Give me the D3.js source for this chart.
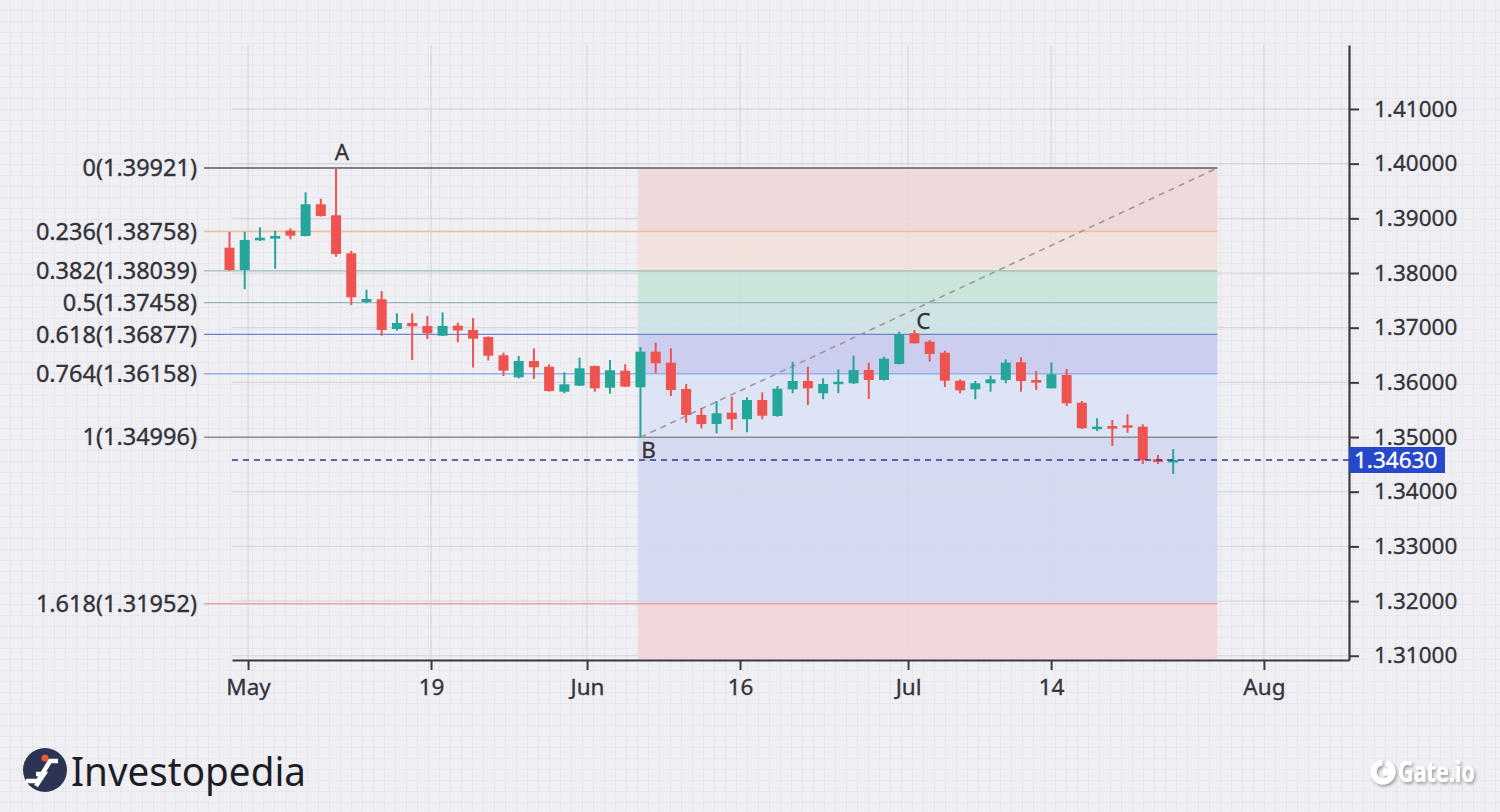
<!DOCTYPE html>
<html><head><meta charset="utf-8">
<script src="https://cdn.jsdelivr.net/npm/d3@7"></script>
<style>body{margin:0;background:#eeeef3;overflow:hidden}svg{display:block}</style>
</head><body>
<svg id="chart" width="1500" height="812"></svg>
<script>
// ---- data (GBP/USD daily candles, trading-day index 0..62) ----
const openP  = [1.38463,1.38055,1.38598,1.38628,1.38774,1.38677,1.39257,1.39056,1.38361,1.37470,
                1.37519,1.36976,1.37086,1.37031,1.36853,1.37036,1.36958,1.36830,1.36495,1.36093,
                1.36391,1.36286,1.35829,1.35939,1.36299,1.35902,1.36213,1.35910,1.36561,1.36360,
                1.35879,1.35403,1.35238,1.35445,1.35325,1.35677,1.35385,1.35873,1.36025,1.35800,
                1.35983,1.35983,1.36226,1.36043,1.36336,1.36897,1.36744,1.36542,1.36030,1.35873,
                1.35983,1.36043,1.36367,1.36043,1.35891,1.36135,1.35628,1.35160,1.35202,1.35215,
                1.35189,1.34593,1.34543];
const highP  = [1.38750,1.38750,1.38836,1.38774,1.38818,1.39476,1.39359,1.39921,1.38403,1.37695,
                1.37671,1.37263,1.37263,1.37214,1.37281,1.37091,1.37177,1.36840,1.36542,1.36482,
                1.36623,1.36330,1.36184,1.36451,1.36308,1.36409,1.36330,1.36647,1.36725,1.36623,
                1.35970,1.35526,1.35659,1.35738,1.35727,1.35818,1.35933,1.36378,1.36286,1.36074,
                1.36239,1.36488,1.36360,1.36469,1.36927,1.36958,1.36775,1.36579,1.36056,1.36025,
                1.36122,1.36422,1.36458,1.36208,1.36367,1.36244,1.35659,1.35343,1.35311,1.35416,
                1.35233,1.34671,1.34781];
const lowP   = [1.38037,1.37702,1.38586,1.38079,1.38617,1.38670,1.39034,1.38298,1.37415,1.37446,
                1.36853,1.36945,1.36409,1.36793,1.36848,1.36733,1.36272,1.36400,1.36116,1.36074,
                1.36061,1.35829,1.35800,1.35934,1.35829,1.35793,1.35915,1.34996,1.36166,1.35750,
                1.35262,1.35160,1.35068,1.35129,1.35087,1.35325,1.35372,1.35800,1.35586,1.35690,
                1.35800,1.35970,1.35696,1.36034,1.36327,1.36710,1.36378,1.35915,1.35800,1.35690,
                1.35829,1.35983,1.35829,1.35860,1.35888,1.35568,1.35147,1.35110,1.34836,1.35079,
                1.34507,1.34507,1.34324];
const closeP = [1.38055,1.38604,1.38646,1.38677,1.38683,1.39257,1.39043,1.38348,1.37556,1.37525,
                1.36958,1.37086,1.37025,1.36897,1.37031,1.36949,1.36799,1.36488,1.36213,1.36391,
                1.36275,1.35842,1.35964,1.36257,1.35891,1.36221,1.35921,1.36561,1.36349,1.35860,
                1.35403,1.35238,1.35434,1.35326,1.35677,1.35390,1.35884,1.36025,1.35891,1.35970,
                1.36012,1.36226,1.36043,1.36433,1.36879,1.36714,1.36519,1.36030,1.35855,1.35983,
                1.36056,1.36360,1.36025,1.35994,1.36147,1.35617,1.35160,1.35189,1.35152,1.35171,
                1.34580,1.34543,1.34580];

const xTickPos    = [1.22, 13.24, 23.49, 33.54, 44.58, 53.98, 67.96];
const xTickLabels = ["May","19","Jun","16","Jul","14","Aug"];
const yTicks      = [1.31,1.32,1.33,1.34,1.35,1.36,1.37,1.38,1.39,1.40,1.41];

const fibRatios = ["0","0.236","0.382","0.5","0.618","0.764","1","1.618"];
const fibPrices = [1.39921,1.38758,1.38039,1.37458,1.36877,1.36158,1.34996,1.31952];
const fibLineColors = ["#5a5a62","#f1bf8f","#9fbcb8","#9ab3bd","#6f82d2","#93b2ef","#8d8d98","#eea3a3"];
const fibBandColors = ["#efd6da","#f3e0d9","#c5e4d5","#cce1e3","#c6caee","#dbe3f5","#d2d7ef","#f1d5da"];
const fibStartIdx = 26.85, fibEndIdx = 64.9;

const points      = ["A","B","C"];
const pointIdx    = [7, 27, 45];
const lastPrice   = 1.34580;
const lastLabel   = "1.34630";

// ---- scales ----
const W = 1500, H = 812;
const x = d3.scaleLinear().domain([0.164, 73.55]).range([232, 1349]);
const y = d3.scaleLinear().domain([1.30922, 1.4217]).range([660, 45]);
const svg = d3.select("#chart");
const FONT = "'Noto Sans', 'Open Sans', sans-serif";
const TXT = "#333338";

// background with graph-paper grid
const defs = svg.append("defs");
const pat = defs.append("pattern").attr("id","paper").attr("width",11).attr("height",11)
  .attr("patternUnits","userSpaceOnUse");
pat.append("rect").attr("width",11).attr("height",11).attr("fill","#efeff4");
pat.append("path").attr("d","M11 0 V11 M0 11 H11").attr("stroke","#e0e0e8").attr("stroke-width",1);
svg.append("rect").attr("width",W).attr("height",H).attr("fill","url(#paper)");

const sh = defs.append("filter").attr("id","shadow").attr("x","-20%").attr("y","-40%").attr("width","150%").attr("height","190%");
sh.append("feDropShadow").attr("dx",1.5).attr("dy",2).attr("stdDeviation",1.6).attr("flood-color","#000").attr("flood-opacity",0.35);

// major grid
const grid = svg.append("g");
grid.selectAll("line.h").data(yTicks).join("line")
  .attr("x1",232).attr("x2",1349).attr("y1",d=>y(d)).attr("y2",d=>y(d))
  .attr("stroke","#d2d2da").attr("stroke-width",1);
grid.selectAll("line.v").data(xTickPos).join("line")
  .attr("x1",d=>x(d)).attr("x2",d=>x(d)).attr("y1",45).attr("y2",660)
  .attr("stroke","#d2d2da").attr("stroke-width",1);

// fib bands
const xs = x(fibStartIdx), xe = x(fibEndIdx);
const bandEdges = fibPrices.concat([y.domain()[0]]);
svg.append("g").selectAll("rect").data(fibPrices).join("rect")
  .attr("x",xs).attr("width",xe-xs)
  .attr("y",(d,i)=>y(d))
  .attr("height",(d,i)=>y(bandEdges[i+1])-y(d))
  .attr("fill",(d,i)=>fibBandColors[i]).attr("opacity",0.88);

// fib lines + labels
const fl = svg.append("g");
fl.selectAll("line").data(fibPrices).join("line")
  .attr("x1",204).attr("x2",xe).attr("y1",d=>y(d)).attr("y2",d=>y(d))
  .attr("stroke",(d,i)=>fibLineColors[i]).attr("stroke-width",1.4);
fl.selectAll("text").data(fibPrices).join("text")
  .attr("x",197).attr("y",d=>y(d)).attr("dy","0.35em").attr("text-anchor","end")
  .attr("font-family",FONT).attr("font-size",23.5).attr("fill",TXT)
  .attr("stroke",TXT).attr("stroke-width",0.35)
  .text((d,i)=>`${fibRatios[i]}(${d.toFixed(5)})`);

// B -> A projection dashed line
svg.append("line")
  .attr("x1",x(pointIdx[1])).attr("y1",y(lowP[pointIdx[1]]))
  .attr("x2",xe).attr("y2",y(highP[pointIdx[0]]))
  .attr("stroke","#9a9aa0").attr("stroke-width",1.6).attr("stroke-dasharray","6,5");

// candles
const up = "#26a69a", dn = "#ef5350";
const cg = svg.append("g");
const idx = d3.range(openP.length);
cg.selectAll("line").data(idx).join("line")
  .attr("x1",i=>x(i)).attr("x2",i=>x(i))
  .attr("y1",i=>y(highP[i])).attr("y2",i=>y(lowP[i]))
  .attr("stroke",i=>closeP[i]>=openP[i]?up:dn).attr("stroke-width",2);
cg.selectAll("rect").data(idx).join("rect")
  .attr("x",i=>x(i)-5).attr("width",10)
  .attr("y",i=>Math.min(y(openP[i]),y(closeP[i])))
  .attr("height",i=>Math.max(2.5,Math.abs(y(openP[i])-y(closeP[i]))))
  .attr("fill",i=>closeP[i]>=openP[i]?up:dn);

// point labels
const lab = svg.append("g").attr("font-family",FONT).attr("font-size",22.5).attr("fill",TXT)
  .attr("stroke",TXT).attr("stroke-width",0.3);
lab.append("text").attr("x",x(pointIdx[0])+6).attr("y",y(highP[pointIdx[0]])-8).attr("text-anchor","middle").text(points[0]);
lab.append("text").attr("x",x(pointIdx[1])+8).attr("y",y(lowP[pointIdx[1]])+21).attr("text-anchor","middle").text(points[1]);
lab.append("text").attr("x",x(pointIdx[2])+9).attr("y",y(highP[pointIdx[2]])-1).attr("text-anchor","middle").text(points[2]);

// current price line
svg.append("line").attr("x1",232).attr("x2",1349).attr("y1",y(lastPrice)).attr("y2",y(lastPrice))
  .attr("stroke","#2d3a9e").attr("stroke-width",1.6).attr("stroke-dasharray","6,5");

// axes
const yAxis = svg.append("g").attr("transform","translate(1349,0)")
  .call(d3.axisRight(y).tickValues(yTicks).tickFormat(d3.format(".5f")).tickSize(10).tickSizeOuter(0).tickPadding(15));
const xAxis = svg.append("g").attr("transform","translate(0,660)")
  .call(d3.axisBottom(x).tickValues(xTickPos).tickFormat((d,i)=>xTickLabels[i]).tickSize(10).tickSizeOuter(0).tickPadding(9));
[yAxis,xAxis].forEach(a=>{
  a.select(".domain").attr("stroke","#3a3a40").attr("stroke-width",2.2);
  a.selectAll(".tick line").attr("stroke","#3a3a40").attr("stroke-width",2);
  a.selectAll(".tick text").attr("font-family",FONT).attr("font-size",22.5).attr("fill",TXT)
    .attr("stroke",TXT).attr("stroke-width",0.3);
});

// last price tag (drawn over the axis, as in the original)
const ly = y(lastPrice);
svg.append("rect").attr("x",1349).attr("y",ly-13).attr("width",96).attr("height",26).attr("fill","#2848cc");
svg.append("text").attr("x",1354).attr("y",ly).attr("dy","0.36em").attr("font-family",FONT)
  .attr("font-size",22.5).attr("fill","#ffffff").attr("stroke","#ffffff").attr("stroke-width",0.3).text(lastLabel);

// Investopedia logo
const lg = svg.append("g");
lg.append("circle").attr("cx",45).attr("cy",770).attr("r",22).attr("fill","#2b3452");
lg.append("path").attr("d","M26 781 L38 781 L50 761 L58 761 M36 774 L44 774 L36 786")
  .attr("stroke","#fff").attr("stroke-width",4.5).attr("fill","none").attr("stroke-linejoin","miter");
lg.append("circle").attr("cx",45).attr("cy",758).attr("r",3.6).attr("fill","#e9573f");
lg.append("text").attr("x",71).attr("y",786).attr("font-family",FONT).attr("font-size",40)
  .attr("fill","#1d1d26").attr("textLength",235).attr("lengthAdjust","spacingAndGlyphs").text("Investopedia");

// Gate.io logo
const gg = svg.append("g").attr("filter","url(#shadow)");
gg.append("path").attr("d", d3.arc()({innerRadius:6.5,outerRadius:12.5,startAngle:0.35,endAngle:2*Math.PI-0.1}))
  .attr("transform","translate(1383,772)").attr("fill","#ffffff");
gg.append("rect").attr("x",1383).attr("y",768.5).attr("width",8).attr("height",7).attr("fill","#ffffff");
gg.append("text").attr("x",1398).attr("y",782).attr("font-family",FONT).attr("font-size",28).attr("font-weight",700)
  .attr("fill","#ffffff").attr("textLength",77).attr("lengthAdjust","spacingAndGlyphs").text("Gate.io");
</script>
</body></html>
